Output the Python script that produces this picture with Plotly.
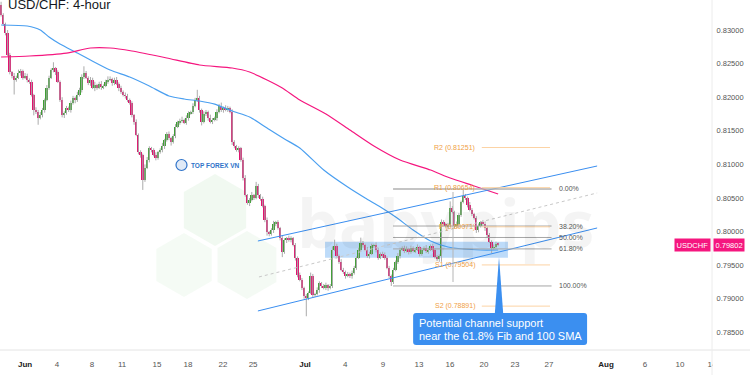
import math
import plotly.graph_objects as go

# ---------------- data (prices in pips, 1 pip = 0.0001) ----------------
PIP = 10000.0
first_open = 8337
closes = [
    8322, 8309, 8296, 8263, 8237, 8232, 8226, 8229, 8236, 8239,
    8229, 8232, 8226, 8223, 8203, 8181, 8178, 8169, 8173, 8181,
    8196, 8214, 8229, 8240, 8243, 8237, 8223, 8196, 8173, 8176,
    8184, 8181, 8191, 8199, 8196, 8203, 8211, 8230, 8236, 8229,
    8221, 8226, 8214, 8218, 8214, 8220, 8215, 8217, 8223, 8226,
    8227, 8221, 8226, 8220, 8214, 8208, 8203, 8202, 8196, 8191,
    8173, 8163, 8144, 8118, 8114, 8077, 8095, 8107, 8124, 8121,
    8114, 8110, 8118, 8121, 8127, 8136, 8145, 8139, 8133, 8142,
    8156, 8163, 8165, 8166, 8162, 8169, 8176, 8178, 8187, 8196,
    8199, 8181, 8163, 8175, 8178, 8169, 8163, 8166, 8169, 8178,
    8187, 8181, 8184, 8181, 8184, 8178, 8133, 8127, 8121, 8124,
    8107, 8080, 8054, 8043, 8047, 8054, 8050, 8068, 8054, 8049,
    8038, 8017, 7999, 7996, 8002, 8011, 8014, 8005, 7990, 7970,
    7987, 7990, 7987, 7990, 7980, 7961, 7935, 7928, 7916, 7904,
    7901, 7909, 7934, 7906, 7907, 7913, 7923, 7919, 7916, 7920,
    7916, 7919, 7973, 7979, 7964, 7955, 7943, 7940, 7934, 7937,
    7934, 7938, 7946, 7961, 7973, 7983, 7980, 7973, 7964, 7967,
    7979, 7980, 7973, 7961, 7967, 7965, 7961, 7946, 7934, 7925,
    7943, 7955, 7964, 7973, 7976, 7971, 7974, 7970, 7976, 7971,
    7973, 7977, 7967, 7973, 7976, 7971, 7973, 7979, 7973, 7962,
    7959, 7964, 8014, 8011, 8008, 8010, 8035, 8029, 8008, 8011,
    8025, 8044, 8053, 8050, 8040, 8032, 8026, 8020, 8002, 8008,
    8014, 8011, 8005, 7995, 7985, 7976, 7977, 7982, 7980.2,
]
wick_up = [
    5, 3, 2, 4, 3, 2, 4, 3, 5, 3,
    2, 4, 3, 2, 3, 2, 4, 3, 5, 3,
    2, 4, 3, 3, 9, 2, 3, 2, 4, 3,
    3, 2, 4, 3, 2, 5, 3, 4, 10, 3,
    2, 4, 3, 5, 2, 3, 4, 2, 3, 5,
    4, 2, 3, 4, 2, 3, 2, 4, 3, 2,
    3, 2, 4, 2, 3, 2, 5, 4, 3, 2,
    3, 4, 2, 3, 5, 2, 3, 4, 2, 3,
    4, 2, 3, 5, 2, 4, 3, 2, 4, 3,
    12, 3, 2, 4, 3, 2, 5, 3, 2, 4,
    3, 5, 2, 4, 3, 2, 4, 3, 2, 3,
    2, 3, 4, 2, 3, 5, 2, 6, 3, 2,
    3, 2, 4, 2, 3, 5, 2, 3, 2, 4,
    3, 2, 4, 3, 2, 3, 2, 4, 3, 2,
    3, 2, 5, 3, 2, 4, 3, 2, 3, 4,
    2, 3, 5, 9, 3, 2, 4, 3, 2, 3,
    2, 4, 3, 2, 3, 8, 3, 2, 4, 3,
    3, 2, 4, 3, 2, 3, 4, 2, 3, 2,
    3, 2, 4, 3, 2, 3, 4, 2, 3, 2,
    3, 4, 2, 3, 2, 4, 3, 2, 3, 2,
    3, 2, 4, 3, 2, 3, 10, 3, 2, 4,
    3, 2, 10, 3, 2, 4, 3, 2, 3, 4,
    2, 3, 4, 2, 3, 2, 4, 3, 2,
]
wick_dn = [
    2, 3, 4, 2, 3, 4, 22, 3, 2, 4,
    3, 2, 4, 3, 2, 8, 3, 10, 2, 3,
    4, 2, 3, 2, 3, 4, 2, 3, 3, 4,
    2, 3, 4, 2, 5, 3, 2, 4, 3, 2,
    3, 4, 2, 5, 3, 2, 4, 3, 2, 3,
    2, 4, 3, 2, 5, 3, 2, 4, 3, 2,
    3, 4, 2, 3, 4, 15, 3, 2, 4, 3,
    2, 4, 3, 2, 3, 4, 2, 3, 5, 2,
    3, 2, 4, 3, 2, 3, 4, 2, 3, 2,
    3, 4, 5, 2, 3, 4, 2, 3, 2, 4,
    2, 3, 4, 2, 3, 2, 4, 3, 2, 3,
    3, 4, 2, 3, 5, 2, 3, 2, 4, 3,
    2, 3, 5, 3, 2, 4, 3, 2, 3, 8,
    3, 4, 2, 3, 2, 4, 3, 2, 3, 4,
    27, 3, 2, 4, 3, 2, 4, 3, 2, 3,
    4, 2, 3, 2, 4, 3, 2, 3, 4, 2,
    3, 4, 2, 3, 2, 3, 4, 2, 3, 4,
    2, 3, 4, 3, 2, 4, 3, 2, 3, 6,
    3, 2, 3, 4, 2, 3, 2, 4, 3, 2,
    3, 2, 4, 3, 2, 3, 4, 2, 3, 2,
    3, 4, 9, 3, 2, 4, 3, 2, 3, 2,
    4, 3, 2, 3, 4, 2, 3, 2, 4, 3,
    2, 3, 4, 3, 2, 8, 3, 2, 2,
]

# moving averages, read at sampled bars
sma100_bar = [0, 12, 18, 22, 27, 35, 41, 50, 59, 68, 77, 84, 91, 98, 106, 114, 122,
              130, 137, 148, 159, 167, 174, 181, 189, 197, 205, 212, 220, 228]
sma100_val = [0.83074, 0.83059, 0.83000, 0.82895, 0.82791, 0.82657, 0.82553, 0.82404,
              0.82300, 0.82166, 0.82018, 0.81973, 0.81943, 0.81898, 0.81794, 0.81705,
              0.81541, 0.81378, 0.81244, 0.80916, 0.80663, 0.80500, 0.80366, 0.80217,
              0.80024, 0.79860, 0.79771, 0.79741, 0.79726, 0.79726]
sma200_bar = [0, 13, 30, 41, 50, 60, 76, 91, 106, 114, 122, 129, 137, 149, 160, 171,
              183, 197, 206, 217, 228]
sma200_val = [0.82598, 0.82613, 0.82657, 0.82732, 0.82732, 0.82687, 0.82583, 0.82479,
              0.82434, 0.82375, 0.82256, 0.82137, 0.81958, 0.81750, 0.81512, 0.81274,
              0.81065, 0.80916, 0.80797, 0.80679, 0.80559]

tick_bars = [11.0, 25.6, 41.7, 55.5, 71.5, 85.7, 101.8, 115.6, 139.4, 157.8, 175.2,
             191.7, 205.9, 221.5, 235.7, 251.3, 277.5, 295.4, 311.4, 326.1]
tick_labels = ["Jun", "4", "8", "11", "15", "18", "22", "25", "Jul", "4", "9",
               "13", "16", "20", "23", "27", "Aug", "6", "10", "14"]
months = {"Jun", "Jul", "Aug"}

price_ticks = [0.785, 0.79, 0.795, 0.80, 0.805, 0.81, 0.815, 0.82, 0.825, 0.83]
last_price = 0.79802

fib_high, fib_low = 0.80634, 0.79191
fib_ratios = [0.0, 0.382, 0.5, 0.618, 1.0]
fib_names = ["0.00%", "38.20%", "50.00%", "61.80%", "100.00%"]

pivot_names = ["R2", "R1", "P", "S1", "S2"]
pivot_vals = [0.81251, 0.80654, 0.80071, 0.79504, 0.78891]

# ---------------- derived OHLC ----------------
opens = [first_open] + closes[:-1]
o = [v / PIP for v in opens]
c = [v / PIP for v in closes]
hi = [(max(a, b) + u) / PIP for a, b, u in zip(opens, closes, wick_up)]
lo = [(min(a, b) - d) / PIP for a, b, d in zip(opens, closes, wick_dn)]
idx = list(range(len(closes)))

GREEN = "#3f9f35"
PINK = "#e0136e"

fig = go.Figure()

# wicks
wx, wy = [], []
for i in idx:
    wx += [i, i, None]
    wy += [lo[i], hi[i], None]
fig.add_trace(go.Scatter(x=wx, y=wy, mode="lines", line=dict(color="#ababab", width=1),
                         hoverinfo="skip", showlegend=False))
# bodies
fig.add_trace(go.Bar(x=idx, y=[abs(b - a) for a, b in zip(o, c)],
                     base=[min(a, b) for a, b in zip(o, c)],
                     marker=dict(color=[GREEN if b >= a else PINK for a, b in zip(o, c)],
                                 line=dict(width=0)),
                     width=0.85, showlegend=False))
# SMAs
fig.add_trace(go.Scatter(x=sma100_bar, y=sma100_val, mode="lines",
                         line=dict(color="#4a9ff0", width=1.2, shape="spline", smoothing=0.6),
                         showlegend=False))
fig.add_trace(go.Scatter(x=sma200_bar, y=sma200_val, mode="lines",
                         line=dict(color="#f5167f", width=1.2, shape="spline", smoothing=0.6),
                         showlegend=False))

shapes = []
annotations = []

# ---- watermark (hexagons) in paper coords ----
def hexpath(cx, cy, r):
    pts = []
    for k in range(6):
        ang = math.radians(90 + 60 * k)
        px = cx + r * math.cos(ang)
        py = cy - r * math.sin(ang)
        pts.append((px / 712.0, 1 - py / 350.0))
    return "M " + " L ".join(f"{a:.5f},{b:.5f}" for a, b in pts) + " Z"

for (hx, hy, hr, al) in [(215, 210, 36, 0.10), (247, 265, 34, 0.08), (184, 265, 32, 0.07)]:
    shapes.append(dict(type="path", xref="paper", yref="paper", path=hexpath(hx, hy, hr),
                       fillcolor=f"rgba(120,195,120,{al})", line=dict(width=0), layer="below"))

annotations.append(dict(xref="paper", yref="paper", x=445 / 712, y=1 - 222 / 350,
                        text="babypips", showarrow=False,
                        font=dict(family="Open Sans", size=66, color="rgba(0,0,0,0.045)",
                                  weight="bold"),
                        xanchor="center", yanchor="middle"))

# ---- support zone ----
shapes.append(dict(type="rect", xref="x", yref="y", x0=148.6, x1=232.5, y0=0.7961, y1=0.7985,
                   fillcolor="rgba(90,165,240,0.40)", line=dict(width=0), layer="below"))

# ---- channel ----
shapes.append(dict(type="line", xref="x", yref="y", x0=117.8, y0=0.79860, x1=273.4, y1=0.80976,
                   line=dict(color="#3a8ef0", width=1)))
shapes.append(dict(type="line", xref="x", yref="y", x0=117.8, y0=0.78819, x1=273.4, y1=0.80054,
                   line=dict(color="#3a8ef0", width=1)))
shapes.append(dict(type="line", xref="x", yref="y", x0=118.3, y0=0.79325, x1=273.4, y1=0.80575,
                   line=dict(color="#c8c8c8", width=1, dash="dot")))

# ---- fib retracement ----
for r, name in zip(fib_ratios, fib_names):
    lvl = fib_high - r * (fib_high - fib_low)
    shapes.append(dict(type="line", xref="x", yref="y", x0=179.8, x1=252.5, y0=lvl, y1=lvl,
                       line=dict(color="#a6a6a6" if r else "#b0b0b0", width=1.6 if r == 0 else 1)))
    annotations.append(dict(xref="x", yref="y", x=254.8, y=lvl, text=name, showarrow=False,
                            xanchor="left", yanchor="middle",
                            font=dict(family="Liberation Sans", size=7, color="#555")))
shapes.append(dict(type="line", xref="x", yref="y", x0=207.3, x1=207.3, y0=0.79250, y1=0.80589,
                   line=dict(color="#b5b5b5", width=1)))

# ---- pivots ----
for name, v in zip(pivot_names, pivot_vals):
    shapes.append(dict(type="line", xref="x", yref="y", x0=220.5, x1=251.8, y0=v, y1=v,
                       line=dict(color="#fcd3a4", width=1)))
    annotations.append(dict(xref="x", yref="y", x=218.3, y=v, text=f"{name} ({v:.5f})",
                            showarrow=False, xanchor="right", yanchor="middle",
                            font=dict(family="Liberation Sans", size=7, color="#f0a045")))

# ---- callout ----
bx0, bx1, by0, by1 = 189.0, 268.8, 0.78313, 0.78789
rx, ry = 1.4, 0.00045
path = (f"M {bx0+rx},{by0} L {bx1-rx},{by0} Q {bx1},{by0} {bx1},{by0+ry} "
        f"L {bx1},{by1-ry} Q {bx1},{by1} {bx1-rx},{by1} L {bx0+rx},{by1} "
        f"Q {bx0},{by1} {bx0},{by1-ry} L {bx0},{by0+ry} Q {bx0},{by0} {bx0+rx},{by0} Z")
shapes.append(dict(type="path", xref="x", yref="y", path=path, fillcolor="#3b8ff0",
                   line=dict(width=0)))
shapes.append(dict(type="path", xref="x", yref="y",
                   path=f"M 226.5,{by1} L 230.3,{by1} L 228.4,0.79622 Z",
                   fillcolor="#3b8ff0", line=dict(width=0)))
annotations.append(dict(xref="x", yref="y", x=190.8, y=0.78640, text="Potential channel support",
                        showarrow=False, xanchor="left", yanchor="middle",
                        font=dict(family="Liberation Sans", size=11, color="white")))
annotations.append(dict(xref="x", yref="y", x=190.8, y=0.78447,
                        text="near the 61.8% Fib and 100 SMA",
                        showarrow=False, xanchor="left", yanchor="middle",
                        font=dict(family="Liberation Sans", size=11, color="white")))

# ---- logo ----
shapes.append(dict(type="circle", xref="paper", yref="paper",
                   x0=176 / 712, x1=187 / 712, y0=1 - 170.5 / 350, y1=1 - 159.5 / 350,
                   line=dict(color="#2f73c9", width=1.2), fillcolor="rgba(47,115,201,0.15)"))
annotations.append(dict(xref="paper", yref="paper", x=189 / 712, y=1 - 165 / 350,
                        text="<b>TOP FOREX VN</b>", showarrow=False, xanchor="left",
                        yanchor="middle",
                        font=dict(family="Liberation Sans", size=6.5, color="#2f73c9")))

# ---- title ----
annotations.append(dict(xref="paper", yref="paper", x=6 / 712, y=1 - 5 / 350,
                        text="USD/CHF: 4-hour", showarrow=False, xanchor="left",
                        yanchor="middle",
                        font=dict(family="Liberation Sans", size=13, color="#131722")))

# ---- price tags ----
annotations.append(dict(xref="paper", yref="y", x=711 / 712, y=last_price, text="USDCHF",
                        showarrow=False, xanchor="right", yanchor="middle",
                        bgcolor="#f5167f", borderpad=1.5,
                        font=dict(family="Liberation Sans", size=7.5, color="white")))
annotations.append(dict(xref="paper", yref="y", x=712.5 / 712, y=last_price,
                        text=f"{last_price:.5f}", showarrow=False, xanchor="left",
                        yanchor="middle", bgcolor="#f5167f", borderpad=1.5,
                        font=dict(family="Liberation Sans", size=7.5, color="white")))

# ---- frame lines & clip of the last date label ----
shapes.append(dict(type="rect", xref="paper", yref="paper", x0=712.6 / 712, x1=750 / 712,
                   y0=-25 / 350, y1=-2 / 350, fillcolor="white", line=dict(width=0),
                   layer="above"))
shapes.append(dict(type="line", xref="paper", yref="paper", x0=0, x1=750 / 712, y0=0, y1=0,
                   line=dict(color="#e4e4e4", width=1)))
shapes.append(dict(type="line", xref="paper", yref="paper", x0=1, x1=1, y0=-25 / 350, y1=1,
                   line=dict(color="#ececec", width=1)))

ticktext = [f"<b><span style='color:#222'>{t}</span></b>" if t in months else t
            for t in tick_labels]

fig.update_layout(
    width=750, height=375, margin=dict(l=0, r=38, t=0, b=25),
    paper_bgcolor="white", plot_bgcolor="white", bargap=0, barmode="overlay",
    showlegend=False, shapes=shapes, annotations=annotations,
    font=dict(family="Liberation Sans"),
    xaxis=dict(range=[-0.5, 326.1], tickmode="array", tickvals=tick_bars, ticktext=ticktext,
               showgrid=False, zeroline=False, showline=False, ticks="outside", ticklen=6,
               tickcolor="rgba(0,0,0,0)", tickfont=dict(size=8, color="#555")),
    yaxis=dict(side="right", range=[0.78238, 0.834464], tickmode="array",
               tickvals=price_ticks, tickformat=".5f", showgrid=False, zeroline=False,
               showline=False, ticks="outside", ticklen=2, tickcolor="rgba(0,0,0,0)",
               tickfont=dict(size=7.5, color="#555")),
)

fig.write_html("out.html")
